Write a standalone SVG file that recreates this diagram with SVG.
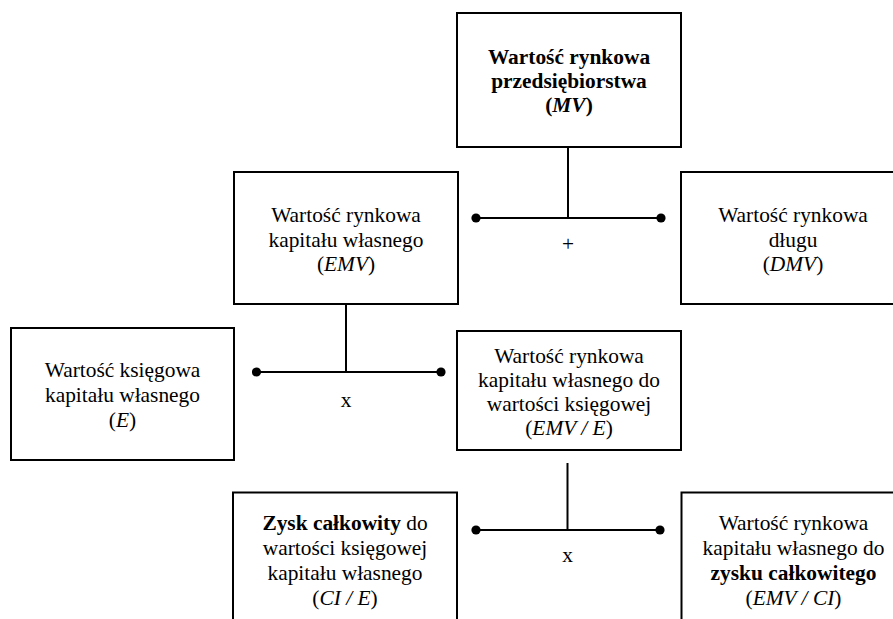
<svg xmlns="http://www.w3.org/2000/svg" width="893" height="619" viewBox="0 0 893 619">
<style>
.box{fill:#fff;stroke:#000;stroke-width:2}
.t{font-family:"Liberation Serif","Times New Roman",serif;font-size:21.4px;fill:#000;text-anchor:middle}
.b{font-weight:bold}
.i{font-style:italic}
.con{fill:none;stroke:#000;stroke-width:2}
</style>
<defs>
<marker id="dot" viewBox="-5 -5 10 10" markerWidth="10" markerHeight="10" refX="0" refY="0" markerUnits="userSpaceOnUse"><circle r="4.6" fill="#000"/></marker>
</defs>
<rect width="893" height="619" fill="#fff"/>
<g id="connectors">
<path class="con" d="M568 147V218"/>
<path class="con" d="M476 218H661" marker-start="url(#dot)" marker-end="url(#dot)"/>
<text class="t" x="568" y="251">+</text>
<path class="con" d="M346 304V372"/>
<path class="con" d="M256.5 372H441" marker-start="url(#dot)" marker-end="url(#dot)"/>
<text class="t" x="346" y="407">x</text>
<path class="con" d="M567.5 463V530"/>
<path class="con" d="M476 530H660" marker-start="url(#dot)" marker-end="url(#dot)"/>
<text class="t" x="567.5" y="562">x</text>
</g>
<g id="mv">
<rect class="box" x="457" y="13" width="224" height="134"/>
<text class="t b" x="569" y="63.5">Wartość rynkowa</text>
<text class="t b" x="569" y="87.5">przedsiębiorstwa</text>
<text class="t b" x="569" y="111.5">(<tspan class="i">MV</tspan>)</text>
</g>
<g id="emv">
<rect class="box" x="234" y="172" width="224" height="132"/>
<text class="t" x="346" y="222">Wartość rynkowa</text>
<text class="t" x="346" y="246.5">kapitału własnego</text>
<text class="t" x="346" y="271">(<tspan class="i">EMV</tspan>)</text>
</g>
<g id="dmv">
<rect class="box" x="681" y="172" width="224" height="132"/>
<text class="t" x="793" y="222">Wartość rynkowa</text>
<text class="t" x="793" y="246.5">długu</text>
<text class="t" x="793" y="271">(<tspan class="i">DMV</tspan>)</text>
</g>
<g id="e">
<rect class="box" x="11" y="328" width="223" height="132"/>
<text class="t" x="122.5" y="377">Wartość księgowa</text>
<text class="t" x="122.5" y="402">kapitału własnego</text>
<text class="t" x="122.5" y="427">(<tspan class="i">E</tspan>)</text>
</g>
<g id="emv-e">
<rect class="box" x="457" y="331" width="224" height="119"/>
<text class="t" x="569" y="363">Wartość rynkowa</text>
<text class="t" x="569" y="387">kapitału własnego do</text>
<text class="t" x="569" y="411">wartości księgowej</text>
<text class="t" x="569" y="435">(<tspan class="i">EMV / E</tspan>)</text>
</g>
<g id="ci-e">
<rect class="box" x="233" y="492.5" width="224" height="140"/>
<text class="t" x="345" y="530"><tspan class="b">Zysk całkowity</tspan> do</text>
<text class="t" x="345" y="555">wartości księgowej</text>
<text class="t" x="345" y="580">kapitału własnego</text>
<text class="t" x="345" y="604.5">(<tspan class="i">CI / E</tspan>)</text>
</g>
<g id="emv-ci">
<rect class="box" x="681.5" y="492.5" width="224" height="140"/>
<text class="t" x="793.5" y="530">Wartość rynkowa</text>
<text class="t" x="793.5" y="555">kapitału własnego do</text>
<text class="t b" x="793.5" y="580">zysku całkowitego</text>
<text class="t" x="793.5" y="604.5">(<tspan class="i">EMV / CI</tspan>)</text>
</g>
</svg>
